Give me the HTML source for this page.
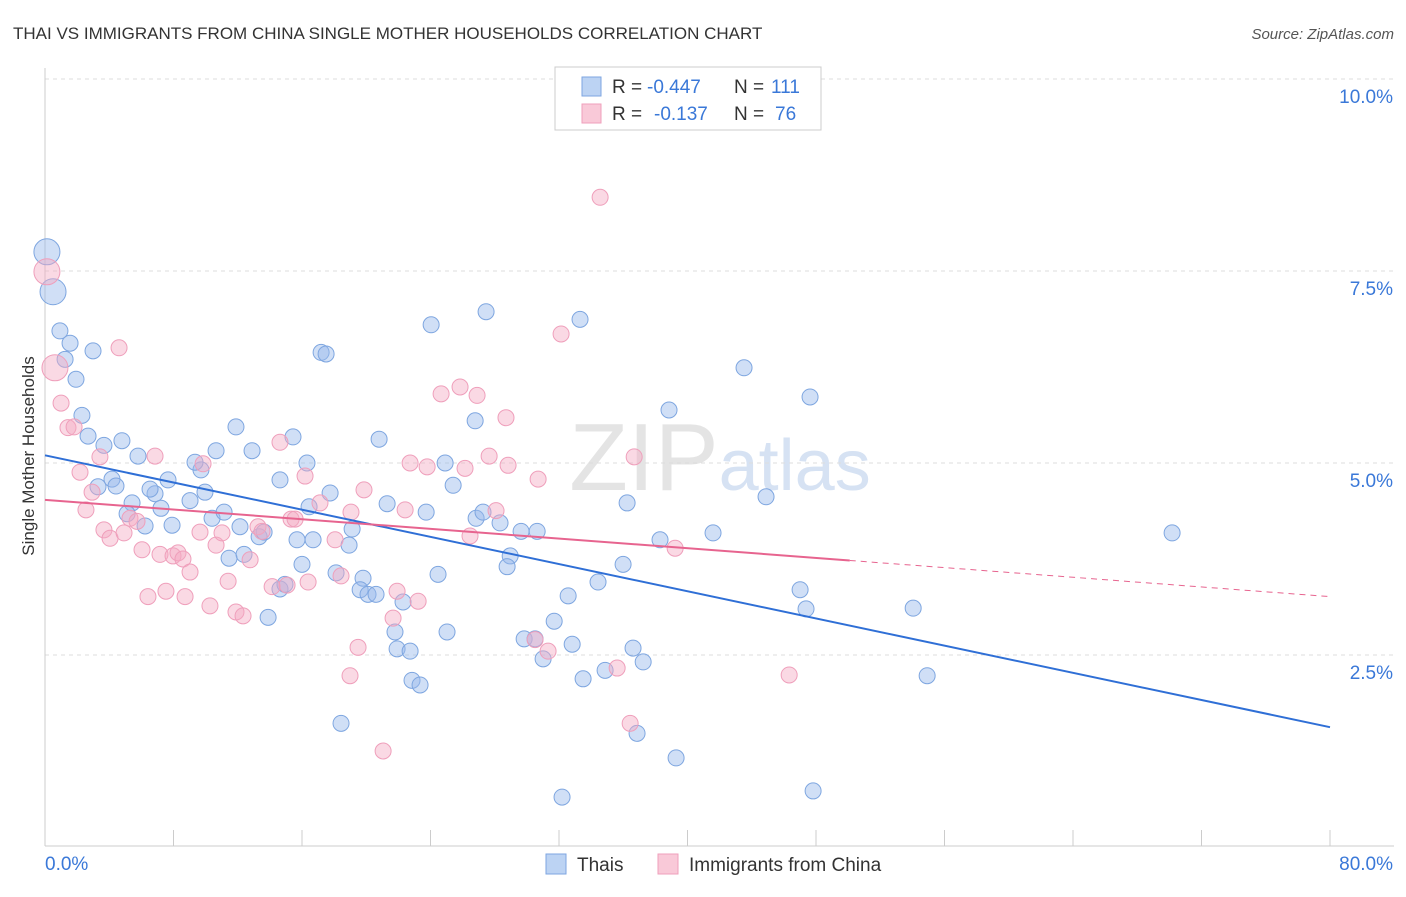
<!DOCTYPE html>
<html><head><meta charset="utf-8"><style>
body{margin:0;background:#fff;font-family:"Liberation Sans",sans-serif}
svg text{font-family:"Liberation Sans",sans-serif}
</style></head><body>
<svg id="chart" width="1406" height="892" xmlns="http://www.w3.org/2000/svg">
<text x="13" y="39" font-size="17" fill="#333">THAI VS IMMIGRANTS FROM CHINA SINGLE MOTHER HOUSEHOLDS CORRELATION CHART</text>
<text x="1394" y="39" font-size="15" fill="#555" text-anchor="end" font-style="italic">Source: ZipAtlas.com</text>
<text x="720" y="490" font-size="96" fill="#e4e4e4" text-anchor="middle" font-family="Liberation Serif">ZIP<tspan fill="#d6e2f3" font-family="Liberation Sans" font-size="72">atlas</tspan></text>
<g id="grid"></g><g id="axes"></g><g id="pts"></g><g id="lines"></g>
<text transform="translate(34,456) rotate(-90)" font-size="17" fill="#333" text-anchor="middle">Single Mother Households</text>
<g>
<rect x="555" y="67" width="266" height="63" fill="#fff" stroke="#ccc"/>
<rect x="582" y="77" width="19" height="19" fill="#bcd3f3" stroke="#7ea6e0"/>
<rect x="582" y="104" width="19" height="19" fill="#f9c9d8" stroke="#ef9fbb"/>
<text x="612" y="93" font-size="19" fill="#333">R =</text>
<text x="647" y="93" font-size="19" fill="#3a78d8">-0.447</text>
<text x="734" y="93" font-size="19" fill="#333">N =</text>
<text x="771" y="93" font-size="19" fill="#3a78d8">111</text>
<text x="612" y="120" font-size="19" fill="#333">R =</text>
<text x="654" y="120" font-size="19" fill="#3a78d8">-0.137</text>
<text x="734" y="120" font-size="19" fill="#333">N =</text>
<text x="775" y="120" font-size="19" fill="#3a78d8">76</text>
</g>
<g>
<rect x="546" y="854" width="20" height="20" fill="#bcd3f3" stroke="#7ea6e0"/>
<text x="577" y="871" font-size="19" fill="#333">Thais</text>
<rect x="658" y="854" width="20" height="20" fill="#f9c9d8" stroke="#ef9fbb"/>
<text x="689" y="871" font-size="19" fill="#333">Immigrants from China</text>
</g>
</svg>
<script>
const blueX=[0.12,0.50,0.93,1.56,1.25,2.99,1.93,2.30,2.68,3.67,4.79,5.79,4.17,3.30,4.42,6.85,6.54,7.66,5.42,7.22,5.11,6.23,7.91,9.03,9.71,9.34,9.96,10.65,11.89,12.89,10.40,11.15,12.14,11.46,12.39,13.33,13.64,13.89,14.63,14.94,14.63,15.44,16.31,16.44,15.69,16.69,16.00,17.75,17.19,17.50,19.12,18.93,18.12,19.80,19.62,20.11,20.61,20.80,21.30,22.29,21.79,21.92,22.73,22.85,23.35,23.73,24.04,24.47,25.03,24.91,25.41,26.78,26.84,27.46,27.27,28.33,28.96,28.77,29.64,30.64,29.83,30.51,31.01,31.70,32.57,32.82,33.31,33.50,34.43,34.87,35.99,36.24,36.61,37.24,36.86,38.85,38.29,39.29,41.59,43.52,44.89,47.01,47.38,47.63,54.05,54.92,70.17,32.19,47.82,18.43];
const blueY=[7.75,7.23,6.72,6.56,6.35,6.46,6.09,5.62,5.35,5.23,5.29,5.09,4.79,4.69,4.70,4.60,4.66,4.78,4.48,4.41,4.34,4.18,4.19,4.51,4.91,5.01,4.62,5.16,5.47,5.16,4.28,4.36,4.17,3.76,3.81,4.04,4.10,2.99,3.36,3.42,4.78,5.34,5.00,4.43,4.00,4.00,3.68,4.61,6.44,6.42,4.14,3.93,3.57,3.50,3.35,3.29,3.29,5.31,4.47,3.19,2.80,2.58,2.55,2.17,2.11,4.36,6.80,3.55,2.80,5.00,4.71,5.55,4.28,6.97,4.36,4.22,3.79,3.65,4.11,4.11,2.71,2.71,2.45,2.94,3.27,2.64,6.87,2.19,3.45,2.30,3.68,4.48,2.59,2.41,1.48,5.69,4.00,1.16,4.09,6.24,4.56,3.35,3.10,5.86,3.11,2.23,4.09,0.65,0.73,1.61];
const pinkX=[0.12,0.62,1.00,1.43,1.81,2.18,2.55,2.93,3.42,3.67,4.05,4.61,4.92,5.29,5.73,6.04,6.41,6.85,7.16,7.53,7.97,8.28,8.59,8.72,9.03,9.65,9.84,10.27,10.65,11.02,11.40,11.89,12.33,12.77,13.26,13.51,14.14,14.63,15.07,15.32,15.57,16.19,16.38,17.12,18.06,18.43,19.05,19.49,18.99,19.86,21.05,21.92,22.42,21.67,22.73,23.23,23.79,24.66,25.84,26.90,26.15,26.46,27.65,28.08,28.70,28.83,30.70,30.51,31.32,32.13,34.56,35.62,36.68,36.43,39.23,46.33];
const pinkY=[7.49,6.24,5.78,5.46,5.47,4.88,4.39,4.62,5.08,4.13,4.02,6.50,4.09,4.28,4.24,3.87,3.26,5.09,3.81,3.33,3.79,3.83,3.75,3.26,3.58,4.10,4.99,3.14,3.93,4.09,3.46,3.06,3.01,3.74,4.17,4.11,3.39,5.27,3.41,4.27,4.27,4.83,3.45,4.48,4.00,3.53,4.36,2.60,2.23,4.65,1.25,3.33,4.39,2.98,5.00,3.20,4.95,5.90,5.99,5.88,4.93,4.05,5.09,4.38,5.59,4.97,4.79,2.70,2.55,6.68,8.46,2.33,5.08,1.61,3.89,2.24];
const blueTrend=[5.10,1.56];
const pinkTrend=[4.52,3.26];
const pinkSolidEnd=50.1;
const yTicks=[2.5,5.0,7.5,10.0];
const xTickVals=[0,8,16,24,32,40,48,56,64,72,80];

const NS="http://www.w3.org/2000/svg";
const X=v=>45+v*(1285/80);
const Y=v=>847-v*76.8;
function mk(tag,attrs,parent){const e=document.createElementNS(NS,tag);for(const k in attrs)e.setAttribute(k,attrs[k]);document.getElementById(parent).appendChild(e);return e;}
yTicks.forEach(t=>{
  const l=mk('line',{x1:45,x2:1394,y1:Y(t),y2:Y(t),stroke:'#ddd','stroke-dasharray':'4,4'},'grid');
  
  
  const tx=mk('text',{x:1393,y:Y(t)+24,'font-size':19,fill:'#3a78d8','text-anchor':'end'},'axes');
  tx.textContent=t.toFixed(1)+'%';
  
  
});
const topLine=mk('line',{x1:45,x2:1394,y1:79,y2:79,stroke:'#ddd','stroke-dasharray':'4,4'},'grid');


const ya=mk('line',{x1:45,x2:45,y1:68,y2:846,stroke:'#ccc'},'axes');


const xa=mk('line',{x1:45,x2:1394,y1:846,y2:846,stroke:'#ccc'},'axes');


xTickVals.forEach(t=>{
  const l=mk('line',{x1:X(t),x2:X(t),y1:830,y2:846,stroke:'#ccc'},'axes');
  
  
});
[['0.0%','start',45],['80.0%','end',1393]].forEach(([s,a,px])=>{
  const tx=mk('text',{x:px,y:870,'font-size':19,fill:'#3a78d8','text-anchor':a},'axes');
  tx.textContent=s;
  
  
});
blueX.forEach((v,i)=>{
  const c=mk('circle',{cx:X(v),cy:Y(blueY[i]),r:i<2?13:8,fill:'rgba(150,185,235,0.45)',stroke:'#7ea6e0','stroke-width':1},'pts');
  
  
});
pinkX.forEach((v,i)=>{
  const c=mk('circle',{cx:X(v),cy:Y(pinkY[i]),r:i<2?13:8,fill:'rgba(245,170,195,0.45)',stroke:'#ef9fbb','stroke-width':1},'pts');
  
  
});
const bl=mk('line',{x1:X(0),y1:Y(blueTrend[0]),x2:X(80),y2:Y(blueTrend[1]),stroke:'#2f6fd6','stroke-width':2},'lines');


const pAt=x=>pinkTrend[0]+(pinkTrend[1]-pinkTrend[0])*x/80;
const pl=mk('line',{x1:X(0),y1:Y(pinkTrend[0]),x2:X(pinkSolidEnd),y2:Y(pAt(pinkSolidEnd)),stroke:'#e7648f','stroke-width':2},'lines');


const pd=mk('line',{x1:X(pinkSolidEnd),y1:Y(pAt(pinkSolidEnd)),x2:X(80),y2:Y(pinkTrend[1]),stroke:'#e7648f','stroke-width':1,'stroke-dasharray':'6,5'},'lines');


</script>
</body></html>
